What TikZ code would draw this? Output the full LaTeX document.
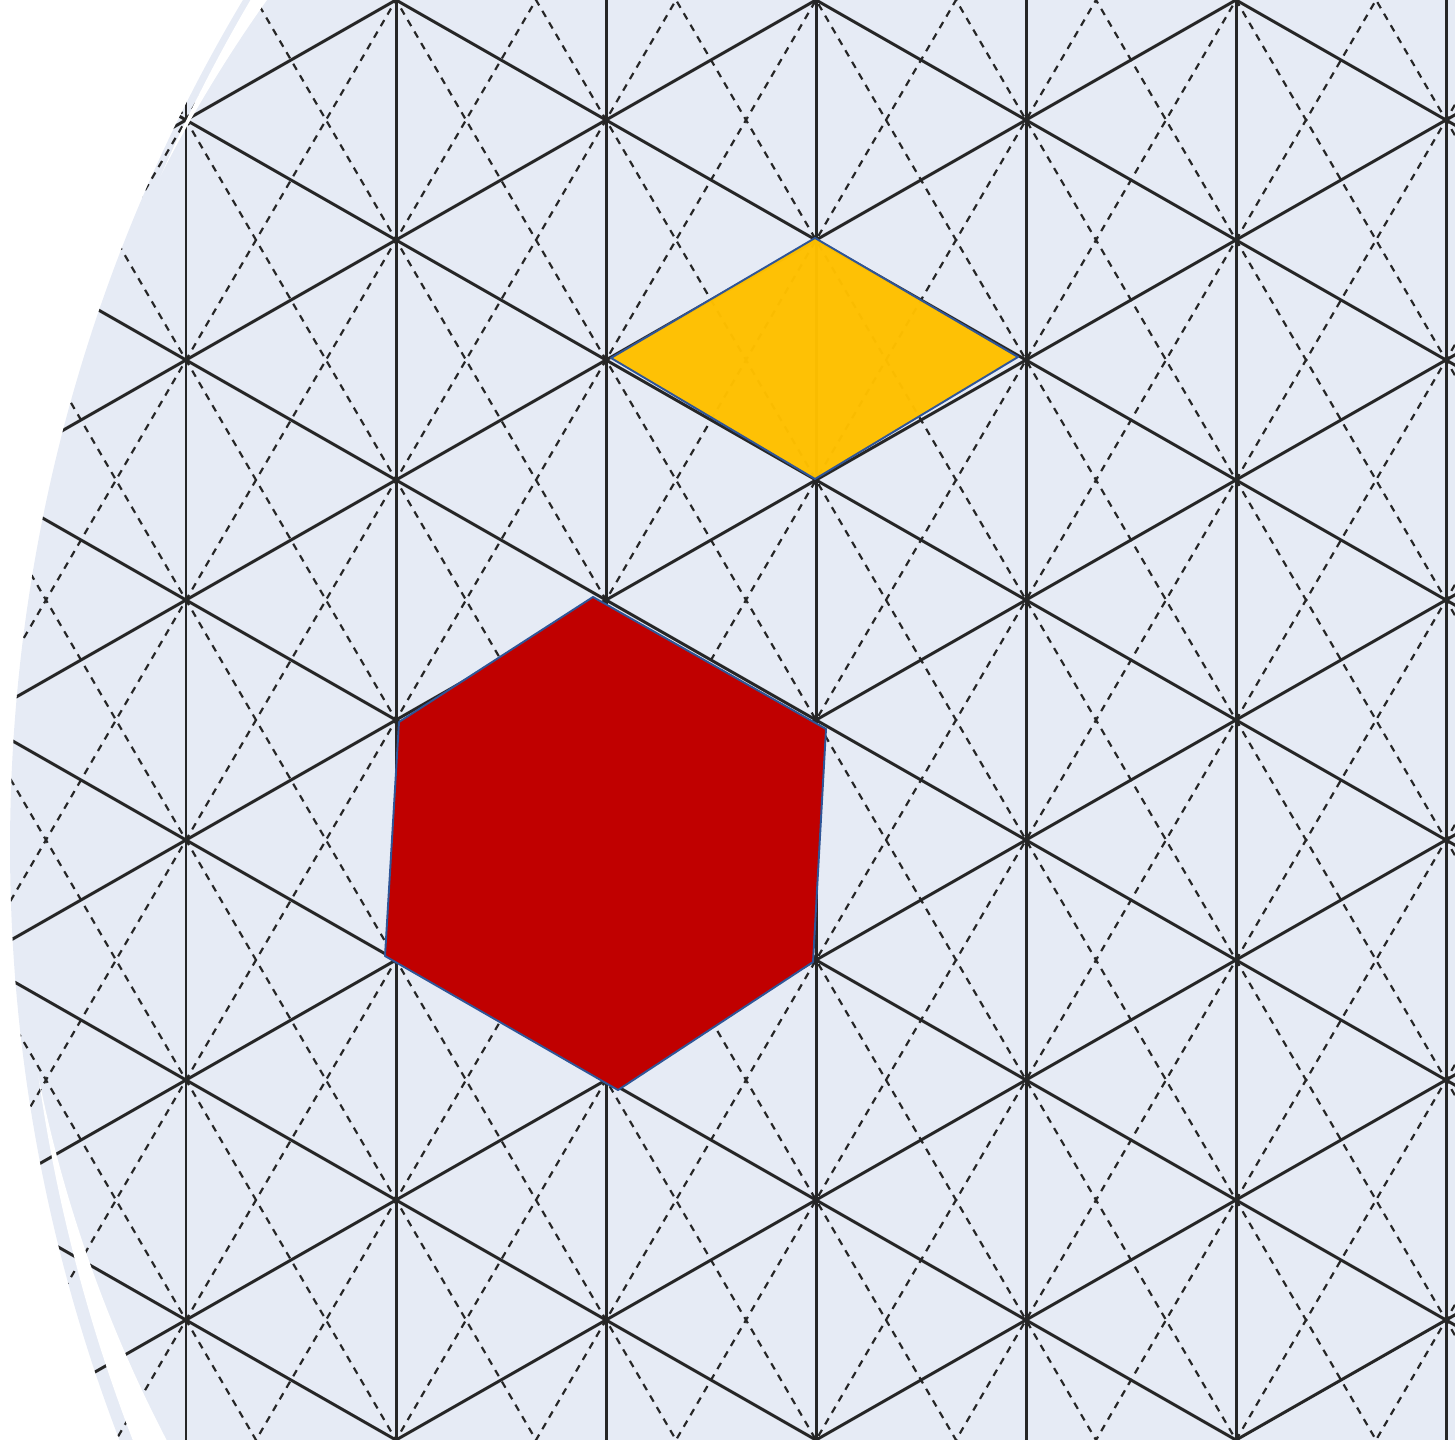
\documentclass[tikz,border=0pt]{standalone}
\usetikzlibrary{calc}

\definecolor{paper}{RGB}{230,235,245}
\definecolor{ink}{RGB}{38,38,38}
\definecolor{gold}{RGB}{255,192,0}
\definecolor{ruby}{RGB}{192,0,0}
\definecolor{rim}{RGB}{47,85,151}

\begin{document}
\begin{tikzpicture}[x=0.01cm, y=-0.01cm,
    grid line/.style={ink, line width=0.85pt},
    median line/.style={ink, line width=0.62pt, dash pattern=on 2pt off 1.8pt},
    tile/.style={draw=rim, line width=0.55pt, line join=round}]

    \useasboundingbox (0,0) rectangle (1455,1440);

    % the sheet and its grid
    \begin{scope}
        \clip (0,0) rectangle (1455,1440);
        \clip (1665,847) circle (16.54cm);
        \fill[paper] (0,0) rectangle (1455,1440);

        % dashed medians
        \foreach \k in {-10,...,15} {
            \draw[median line] (-30,{120-12/7*216+240*\k}) -- (1500,{120+12/7*1314+240*\k});
            \draw[median line] (-30,{120+12/7*216+240*\k}) -- (1500,{120-12/7*1314+240*\k});
        }

        % vertical edges
        \foreach \x in {-24,186,...,1446}
            \draw[grid line] (\x,-10) -- (\x,1450);

        % slanted edges
        \foreach \k in {-5,...,10} {
            \draw[grid line] (-30,{120-4/7*216+240*\k}) -- (1500,{120+4/7*1314+240*\k});
            \draw[grid line] (-30,{120+4/7*216+240*\k}) -- (1500,{120-4/7*1314+240*\k});
        }

        % vertices
        \foreach \x in {186,606,1026,1446}
            \foreach \y in {120,360,...,1320}
                \fill[ink] (\x,\y) circle (0.025cm);
        \foreach \x in {-24,396,816,1236}
            \foreach \y in {0,240,...,1440}
                \fill[ink] (\x,\y) circle (0.025cm);
    \end{scope}

    % white fold along the rim
    \begin{scope}[even odd rule]
        \clip (0,0) rectangle (1455,1440) (1396,802) circle (13.84cm);
        \fill[white] (1686,842) circle (16.63cm);
    \end{scope}

    % rhombus
    \coordinate (Y1) at (815,238);
    \coordinate (Y2) at (1018,357);
    \coordinate (Y3) at (815,479);
    \coordinate (Y4) at (611,358);
    \filldraw[tile, fill=gold, fill opacity=0.975] (Y1) -- (Y2) -- (Y3) -- (Y4) -- cycle;

    % hexagon
    \coordinate (H1) at (593,597);
    \coordinate (H2) at (826,729);
    \coordinate (H3) at (813,962);
    \coordinate (H4) at (618,1090);
    \coordinate (H5) at (385,956);
    \coordinate (H6) at (399,722);
    \filldraw[tile, fill=ruby] (H1) -- (H2) -- (H3) -- (H4) -- (H5) -- (H6) -- cycle;

\end{tikzpicture}
\end{document}
